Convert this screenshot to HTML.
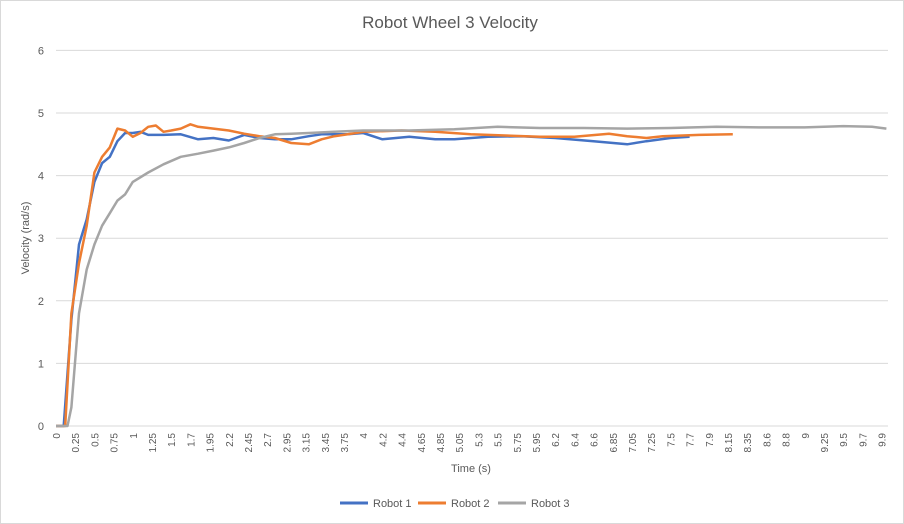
<!DOCTYPE html>
<html><head><meta charset="utf-8"><style>
body{margin:0;background:#fff;}
svg{display:block;font-family:"Liberation Sans",sans-serif;}
</style></head><body>
<svg id="chart" width="904" height="524" viewBox="0 0 904 524">
<rect x="0.5" y="0.5" width="903" height="523" fill="#fff" stroke="#d9d9d9"/>
<text x="450" y="28" text-anchor="middle" font-size="17" fill="#595959">Robot Wheel 3 Velocity</text>
<g id="grid"></g>
<g id="yticks"></g>
<g id="xticks"></g>
<g id="series"></g>
<text transform="translate(29,238) rotate(-90)" text-anchor="middle" font-size="11" fill="#595959">Velocity (rad/s)</text>
<text x="471" y="472" text-anchor="middle" font-size="11" fill="#595959">Time (s)</text>
<g>
<g><line x1="340" y1="503" x2="368" y2="503" stroke="#4472c4" stroke-width="3"/><text x="373" y="507" font-size="11" fill="#595959">Robot 1</text></g>
<g><line x1="418" y1="503" x2="446" y2="503" stroke="#ed7d31" stroke-width="3"/><text x="451" y="507" font-size="11" fill="#595959">Robot 2</text></g>
<g><line x1="498" y1="503" x2="526" y2="503" stroke="#a5a5a5" stroke-width="3"/><text x="531" y="507" font-size="11" fill="#595959">Robot 3</text></g>
</g>
</svg>
<script>
const yTicks=[0,1,2,3,4,5,6];
const xTickLabels=["0","0.25","0.5","0.75","1","1.25","1.5","1.7","1.95","2.2","2.45","2.7","2.95","3.15","3.45","3.75","4","4.2","4.4","4.65","4.85","5.05","5.3","5.5","5.75","5.95","6.2","6.4","6.6","6.85","7.05","7.25","7.5","7.7","7.9","8.15","8.35","8.6","8.8","9","9.25","9.5","9.7","9.9"];
const r1T=[0,0.1,0.2,0.3,0.4,0.5,0.6,0.7,0.8,0.9,1.0,1.1,1.2,1.4,1.6,1.8,2.0,2.2,2.4,2.6,2.8,3.0,3.2,3.4,3.6,3.8,4.0,4.2,4.5,4.8,5.0,5.4,5.8,6.2,6.6,7.0,7.2,7.5,7.7];
const r1V=[0,0,1.7,2.9,3.3,3.9,4.2,4.3,4.55,4.68,4.68,4.7,4.65,4.65,4.66,4.58,4.6,4.56,4.65,4.6,4.58,4.58,4.63,4.66,4.66,4.66,4.68,4.58,4.62,4.58,4.58,4.62,4.63,4.6,4.55,4.5,4.55,4.6,4.62];
const r2T=[0,0.12,0.2,0.3,0.4,0.5,0.6,0.7,0.8,0.9,1.0,1.1,1.2,1.3,1.4,1.5,1.6,1.7,1.8,2.0,2.2,2.4,2.6,2.8,3.0,3.2,3.4,3.6,3.8,4.0,4.4,4.8,5.2,5.6,6.0,6.4,6.8,7.0,7.2,7.4,7.8,8.2];
const r2V=[0,0,1.8,2.6,3.2,4.05,4.3,4.45,4.75,4.72,4.62,4.68,4.78,4.8,4.7,4.72,4.75,4.82,4.78,4.75,4.72,4.67,4.63,4.6,4.52,4.5,4.58,4.63,4.66,4.7,4.72,4.7,4.66,4.64,4.62,4.62,4.67,4.63,4.6,4.63,4.65,4.66];
const r3T=[0,0.15,0.2,0.3,0.4,0.5,0.6,0.7,0.8,0.9,1.0,1.2,1.4,1.6,1.8,2.0,2.2,2.4,2.6,2.8,3.0,3.2,3.6,4.0,4.5,5.0,5.5,6.0,6.5,7.0,7.5,8.0,8.5,9.0,9.5,9.8,9.95];
const r3V=[0,0,0.3,1.8,2.5,2.9,3.2,3.4,3.6,3.7,3.9,4.05,4.18,4.3,4.35,4.4,4.45,4.52,4.6,4.66,4.67,4.68,4.7,4.72,4.72,4.74,4.78,4.76,4.76,4.75,4.76,4.78,4.77,4.77,4.79,4.78,4.75];
const NS="http://www.w3.org/2000/svg";
const X0=56,STEP=19.2,Y0=426,PX=62.6;
const tickVals=xTickLabels.map(Number);
function xScale(t){
 for(let i=0;i<tickVals.length-1;i++){
  if(t<=tickVals[i+1]) return X0+STEP*(i+(t-tickVals[i])/(tickVals[i+1]-tickVals[i]));
 }
 const n=tickVals.length-1;
 return X0+STEP*(n+(t-tickVals[n])/(tickVals[n]-tickVals[n-1]));
}
const yScale=v=>Y0-v*PX;
const grid=document.getElementById('grid'),yt=document.getElementById('yticks'),xt=document.getElementById('xticks'),sg=document.getElementById('series');
yTicks.forEach(v=>{
 const l=document.createElementNS(NS,'line');
 
 
 l.setAttribute('x1',X0);l.setAttribute('x2',888);l.setAttribute('y1',yScale(v));l.setAttribute('y2',yScale(v));
 l.setAttribute('stroke','#d9d9d9');l.setAttribute('stroke-width','1');
 grid.appendChild(l);
 const t=document.createElementNS(NS,'text');
 
 
 t.setAttribute('x',44);t.setAttribute('y',yScale(v)+4);t.setAttribute('text-anchor','end');
 t.setAttribute('font-size','11');t.setAttribute('fill','#595959');t.textContent=v;
 yt.appendChild(t);
});
xTickLabels.forEach((s,i)=>{
 const x=X0+i*STEP;
 const t=document.createElementNS(NS,'text');
 
 
 t.setAttribute('transform','translate('+(x+4)+',433) rotate(-90)');
 t.setAttribute('text-anchor','end');t.setAttribute('font-size','10');t.setAttribute('fill','#595959');
 t.textContent=s;xt.appendChild(t);
});
[[r1T,r1V,'#4472c4','robot-1-line'],[r2T,r2V,'#ed7d31','robot-2-line'],[r3T,r3V,'#a5a5a5','robot-3-line']].forEach(([T,V,c,n])=>{
 const p=document.createElementNS(NS,'polyline');
 
 
 p.setAttribute('points',T.map((t,i)=>xScale(t).toFixed(1)+','+yScale(V[i]).toFixed(1)).join(' '));
 p.setAttribute('fill','none');p.setAttribute('stroke',c);p.setAttribute('stroke-width','2.5');p.setAttribute('stroke-linejoin','round');
 sg.appendChild(p);
});
</script>
</body></html>
